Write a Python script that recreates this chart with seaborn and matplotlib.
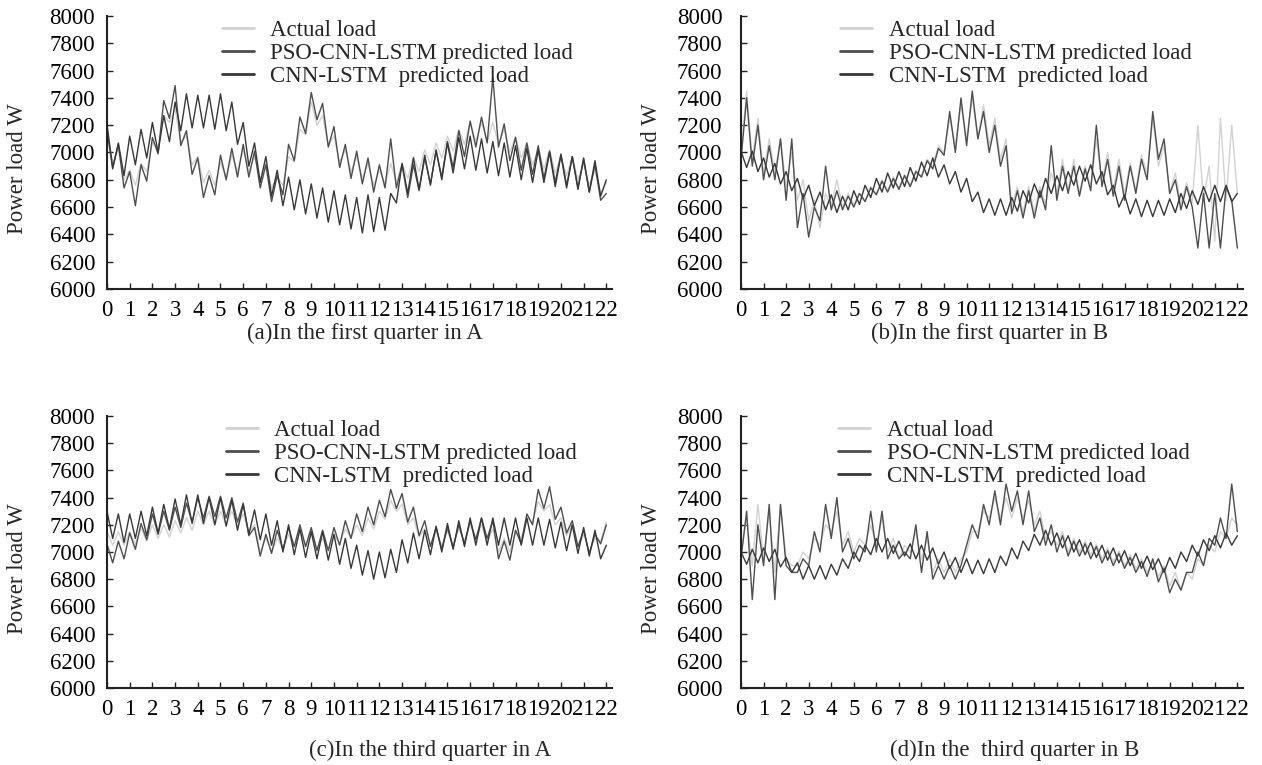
import numpy as np
import pandas as pd
import matplotlib
matplotlib.use("Agg")
import matplotlib.pyplot as plt
from matplotlib.lines import Line2D
import seaborn as sns

# ---------------- data ----------------
hour_ticks = list(range(23))
hour_labels = [str(h) for h in hour_ticks]
y_ticks = list(range(6000, 8001, 200))
series_names = ["Actual load", "PSO-CNN-LSTM predicted load", "CNN-LSTM  predicted load"]
captions = ["(a)In the first quarter in A", "(b)In the first quarter in B",
            "(c)In the third quarter in A", "(d)In the  third quarter in B"]

# samples every 15 min from hour 0 to hour 22
a_actual = [7120, 6930, 7020, 6800, 6870, 6760, 6920, 6860,
            7070, 7030, 7270, 7220, 7320, 7080, 7120, 6910,
            6970, 6780, 6870, 6760, 6930, 6810, 6980, 6860,
            7020, 6860, 6970, 6800, 6920, 6740, 6820, 6760,
            6970, 6930, 7170, 7130, 7370, 7200, 7270, 7050,
            7120, 6930, 7020, 6860, 6970, 6810, 6920, 6760,
            6870, 6770, 6920, 6780, 6920, 6810, 6970, 6860,
            7020, 6910, 7070, 6960, 7120, 7010, 7170, 7060,
            7220, 7080, 7220, 7080, 7220, 7060, 7170, 7000,
            7120, 6960, 7070, 6910, 7020, 6880, 7020, 6850,
            6970, 6830, 6970, 6800, 6920, 6760, 6870, 6700,
            6780]
a_pso = [7210, 6890, 7060, 6740, 6860, 6610, 6910, 6790,
         7110, 6990, 7380, 7250, 7490, 7050, 7160, 6840,
         6960, 6670, 6830, 6690, 6980, 6800, 7030, 6820,
         7060, 6820, 7010, 6740, 6910, 6640, 6830, 6690,
         7060, 6940, 7260, 7140, 7440, 7240, 7360, 7040,
         7190, 6890, 7060, 6810, 7010, 6770, 6960, 6710,
         6910, 6740, 7100, 6740, 6910, 6670, 6910, 6720,
         6960, 6770, 7010, 6820, 7080, 6890, 7160, 6970,
         7230, 7040, 7260, 7070, 7550, 7040, 7210, 6940,
         7110, 6870, 7070, 6840, 7050, 6810, 7010, 6780,
         6990, 6760, 6970, 6740, 6950, 6710, 6910, 6650,
         6700]
a_cnn = [7170, 6880, 7070, 6830, 7120, 6910, 7170, 6960,
         7220, 7000, 7270, 7080, 7370, 7160, 7430, 7180,
         7420, 7180, 7420, 7170, 7430, 7160, 7370, 7060,
         7220, 6900, 7070, 6780, 6970, 6680, 6870, 6610,
         6820, 6580, 6800, 6550, 6770, 6520, 6740, 6490,
         6720, 6470, 6690, 6440, 6670, 6410, 6690, 6420,
         6670, 6430, 6700, 6630, 6920, 6700, 6960, 6730,
         6980, 6760, 7020, 6800, 7070, 6850, 7110, 6880,
         7120, 6870, 7100, 6850, 7080, 6830, 7070, 6820,
         7050, 6800, 7030, 6780, 7020, 6780, 7000, 6750,
         6980, 6740, 6970, 6730, 6960, 6710, 6940, 6680,
         6800]

b_actual = [7000, 7450, 6950, 7250, 6850, 7100, 6850, 7100,
            6750, 7000, 6650, 6800, 6500, 6650, 6450, 6700,
            6600, 6800, 6600, 6700, 6620, 6700, 6650, 6750,
            6700, 6800, 6720, 6820, 6740, 6840, 6760, 6870,
            6830, 6950, 6900, 7050, 7000, 7250, 7050, 7350,
            7100, 7400, 7100, 7350, 7050, 7250, 6950, 7100,
            6600, 6750, 6560, 6750, 6560, 6750, 6620, 6850,
            6700, 6950, 6720, 6950, 6700, 6900, 6750, 7100,
            6780, 7000, 6720, 6950, 6700, 6920, 6720, 6980,
            6850, 7250, 6900, 7050, 6700, 6850, 6620, 6780,
            6630, 7200, 6650, 6900, 6350, 7250, 6650, 7200,
            6700]
b_pso = [6950, 7400, 6900, 7200, 6800, 7050, 6800, 7100,
         6650, 7100, 6450, 6700, 6380, 6600, 6500, 6900,
         6580, 6720, 6580, 6680, 6600, 6700, 6640, 6740,
         6690, 6790, 6710, 6810, 6730, 6830, 6750, 6860,
         6820, 6940, 6880, 7030, 6980, 7300, 7000, 7400,
         7050, 7450, 7100, 7300, 7000, 7200, 6900, 7050,
         6550, 6720, 6520, 6720, 6520, 6720, 6580, 7050,
         6650, 6900, 6700, 6900, 6680, 6880, 6720, 7200,
         6750, 6950, 6680, 6900, 6650, 6900, 6700, 6950,
         6800, 7300, 6950, 7100, 6700, 6800, 6580, 6750,
         6600, 6300, 6700, 6300, 6700, 6300, 6750, 6650,
         6300]
b_cnn = [7010, 6890, 7010, 6860, 6960, 6820, 6920, 6770,
         6860, 6720, 6810, 6660, 6760, 6610, 6710, 6580,
         6690, 6560, 6680, 6580, 6720, 6620, 6760, 6670,
         6810, 6710, 6850, 6740, 6860, 6750, 6890, 6790,
         6930, 6830, 6960, 6820, 6910, 6770, 6860, 6710,
         6810, 6640, 6710, 6560, 6660, 6540, 6660, 6540,
         6670, 6570, 6720, 6630, 6770, 6670, 6810, 6700,
         6830, 6720, 6860, 6760, 6900, 6790, 6910, 6770,
         6860, 6690, 6760, 6600, 6690, 6550, 6660, 6530,
         6650, 6530, 6650, 6540, 6660, 6560, 6700, 6590,
         6720, 6620, 6750, 6640, 6760, 6640, 6760, 6640,
         6700]

c_actual = [7150, 7050, 7150, 7050, 7150, 7060, 7170, 7080,
            7200, 7100, 7200, 7110, 7230, 7140, 7250, 7160,
            7300, 7200, 7300, 7200, 7300, 7200, 7300, 7190,
            7280, 7150, 7200, 7000, 7100, 7000, 7100, 7020,
            7130, 7040, 7150, 7040, 7130, 7010, 7100, 7020,
            7130, 7060, 7170, 7100, 7200, 7120, 7250, 7170,
            7300, 7240, 7380, 7300, 7350, 7200, 7250, 7110,
            7170, 7060, 7150, 7050, 7150, 7060, 7170, 7080,
            7200, 7100, 7200, 7080, 7170, 7000, 7100, 7000,
            7150, 7100, 7250, 7220, 7370, 7300, 7350, 7200,
            7250, 7120, 7200, 7030, 7130, 7000, 7100, 7080,
            7220]
c_pso = [7060, 6920, 7080, 6950, 7140, 7020, 7210, 7090,
         7280, 7130, 7300, 7160, 7330, 7180, 7360, 7220,
         7400, 7250, 7410, 7260, 7410, 7250, 7400, 7220,
         7360, 7120, 7180, 6970, 7130, 6990, 7160, 7020,
         7180, 7040, 7200, 7040, 7180, 7010, 7160, 7010,
         7180, 7050, 7230, 7100, 7280, 7150, 7330, 7200,
         7380, 7260, 7460, 7320, 7430, 7220, 7330, 7120,
         7230, 7040, 7180, 7020, 7180, 7030, 7200, 7060,
         7230, 7090, 7250, 7100, 7230, 6950, 7080, 6940,
         7160, 7060, 7280, 7200, 7460, 7320, 7480, 7240,
         7330, 7140, 7230, 7040, 7160, 6990, 7130, 7060,
         7200]
c_cnn = [7300, 7100, 7280, 7070, 7280, 7100, 7300, 7120,
         7330, 7140, 7350, 7170, 7390, 7200, 7420, 7210,
         7420, 7210, 7400, 7200, 7400, 7190, 7380, 7160,
         7350, 7130, 7310, 7090, 7280, 7050, 7230, 7000,
         7200, 6980, 7170, 6960, 7150, 6950, 7150, 6940,
         7130, 6910, 7100, 6880, 7050, 6830, 7010, 6800,
         7000, 6810, 7020, 6850, 7090, 6920, 7140, 6950,
         7160, 6980, 7190, 7000, 7210, 7020, 7230, 7040,
         7250, 7050, 7250, 7050, 7250, 7050, 7250, 7050,
         7250, 7050, 7250, 7050, 7250, 7050, 7240, 7030,
         7220, 7010, 7200, 6990, 7180, 6970, 7160, 6950,
         7050]

d_actual = [7000, 7250, 6900, 7350, 6950, 7300, 6850, 7350,
            6950, 6900, 6900, 7000, 6950, 7100, 7050, 7200,
            7150, 7300, 7050, 7150, 7000, 7100, 7050, 7200,
            7050, 7250, 7000, 7100, 6950, 7050, 7000, 7150,
            6950, 7100, 6850, 6950, 6850, 6950, 6850, 6950,
            7000, 7150, 7150, 7300, 7250, 7400, 7250, 7400,
            7250, 7400, 7250, 7380, 7200, 7300, 7100, 7150,
            7050, 7150, 7000, 7100, 7000, 7080, 6980, 7060,
            6950, 7030, 6930, 7010, 6900, 6980, 6880, 6950,
            6850, 6930, 6820, 6900, 6750, 6850, 6720, 6850,
            6800, 6950, 6900, 7050, 7000, 7150, 7100, 7250,
            7200]
d_pso = [6950, 7300, 6650, 7200, 6900, 7350, 6650, 7350,
         6900, 6850, 6850, 6950, 6900, 7150, 7000, 7350,
         7100, 7400, 7000, 7100, 6950, 7050, 7000, 7300,
         7000, 7300, 6950, 7050, 6950, 7000, 6950, 7200,
         6850, 7150, 6800, 6900, 6800, 6900, 6800, 6900,
         7050, 7200, 7100, 7350, 7200, 7450, 7200, 7500,
         7300, 7450, 7200, 7450, 7150, 7250, 7050, 7200,
         7000, 7120, 6970, 7080, 6970, 7060, 6950, 7040,
         6920, 7010, 6900, 6990, 6880, 6960, 6850, 6930,
         6820, 6950, 6780, 6880, 6700, 6800, 6720, 6850,
         6850, 7000, 6900, 7100, 7050, 7250, 7100, 7500,
         7150]
d_cnn = [7000, 6910, 7020, 6920, 7030, 6930, 7020, 6890,
         6960, 6850, 6920, 6800, 6900, 6800, 6900, 6800,
         6910, 6830, 6950, 6880, 7000, 6930, 7050, 6980,
         7100, 7000, 7100, 6990, 7080, 6970, 7060, 6950,
         7050, 6940, 7030, 6910, 7000, 6880, 6960, 6850,
         6950, 6840, 6940, 6840, 6950, 6850, 6970, 6900,
         7030, 6950, 7080, 7010, 7130, 7050, 7160, 7050,
         7140, 7030, 7120, 7000, 7090, 6980, 7070, 6960,
         7050, 6940, 7030, 6920, 7010, 6900, 6990, 6880,
         6970, 6870, 6950, 6850, 6960, 6880, 7000, 6930,
         7050, 6970, 7090, 7010, 7120, 7030, 7140, 7050,
         7120]

panels = [
    (a_actual, a_pso, a_cnn),
    (b_actual, b_pso, b_cnn),
    (c_actual, c_pso, c_cnn),
    (d_actual, d_pso, d_cnn),
]

# ---------------- style ----------------
sns.set_style("ticks")
plt.rcParams['font.family'] = ['Liberation Serif', 'DejaVu Serif']
plt.rcParams['axes.edgecolor'] = '#222222'

colors = {series_names[0]: '#d2d2d2',
          series_names[1]: '#4e4e4e',
          series_names[2]: '#383838'}

W, H = 1262, 765
fig = plt.figure(figsize=(W / 100, H / 100), dpi=100)

# axes boxes in pixels: left, top(8000), right, bottom(6000)
boxes = [(107, 16, 612, 289), (741, 16, 1243, 289),
         (107, 416, 612, 688), (741, 416, 1243, 688)]
ypads = [8.5, 13.5, 8.5, 13.5]
legend_x = [0.228, 0.198, 0.235, 0.194]
caption_pos = [(365, 333), (990, 333), (430, 750), (1015, 750)]
FS = 16.5

for k, (vals, box) in enumerate(zip(panels, boxes)):
    l, t, r, b = box
    ax = fig.add_axes([l / W, 1 - b / H, (r - l) / W, (b - t) / H])
    frames = []
    for name, v in zip(series_names, vals):
        frames.append(pd.DataFrame({'hour': np.linspace(0, 22, len(v)),
                                    'load': v, 'series': name}))
    df = pd.concat(frames, ignore_index=True)
    sns.lineplot(data=df, x='hour', y='load', hue='series',
                 hue_order=series_names, palette=colors, ax=ax,
                 linewidth=1.0, legend=False, estimator=None, sort=False)
    ax.set_xlim(0, 22.25)
    ax.set_ylim(6000, 8000)
    ax.set_xticks(hour_ticks)
    ax.set_xticklabels(hour_labels)
    ax.set_yticks(y_ticks)
    ax.set_yticklabels([str(v) for v in y_ticks])
    ax.set_xlabel('')
    ax.set_ylabel('Power load W', fontsize=FS)
    ax.yaxis.set_label_coords(-0.157, 0.44)
    sns.despine(ax=ax)
    for s in ['left', 'bottom']:
        ax.spines[s].set_linewidth(1.5)
    ax.tick_params(axis='x', direction='in', length=4, width=1, pad=8,
                   labelsize=FS, colors='#222222', labelcolor='black')
    ax.tick_params(axis='y', direction='in', length=4, width=1, pad=ypads[k],
                   labelsize=FS, colors='#222222', labelcolor='black')
    handles = [Line2D([], [], color=colors[n], lw=2) for n in series_names]
    ax.legend(handles, series_names, loc='upper left',
              bbox_to_anchor=(legend_x[k], 0.985), frameon=False,
              fontsize=FS, handlelength=1.4, handletextpad=0.7,
              labelspacing=0.08, borderpad=0, borderaxespad=0)
    cx, cy = caption_pos[k]
    fig.text(cx / W, 1 - cy / H, captions[k], ha='center', va='center',
             fontsize=FS)

fig.savefig('out.png', dpi=100)
